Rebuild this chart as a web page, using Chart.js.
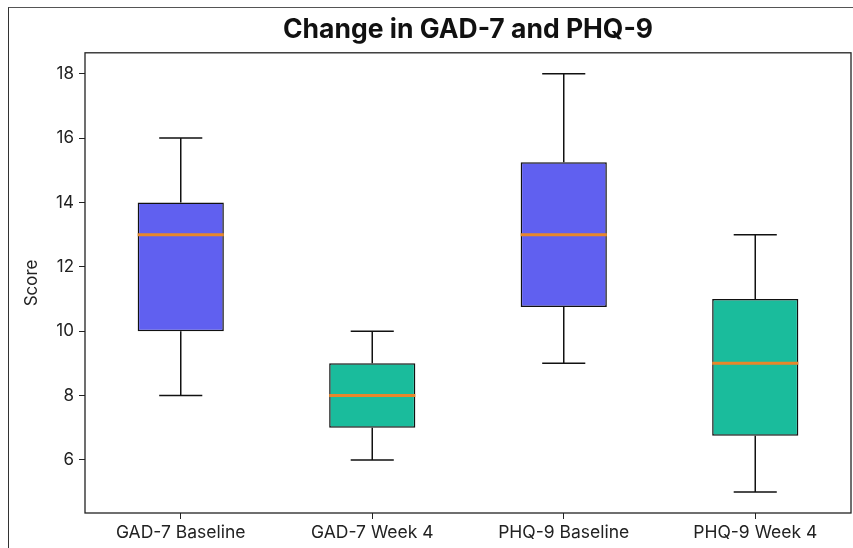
<!DOCTYPE html>
<html>
<head>
  <meta charset="UTF-8">
  <title>Change in GAD-7 and PHQ-9</title>
  <script src="https://cdn.jsdelivr.net/npm/chart.js"></script>
  <style>
    html, body { margin: 0; padding: 0; background: #fff; }
    #wrap { position: relative; width: 853px; height: 548px; overflow: hidden; }
    #frame { position: absolute; left: 8px; top: 7px; width: 860px; height: 560px;
             border-top: 1.5px solid #555; border-left: 1.5px solid #333; }
    #boxChart { position: absolute; left: 0; top: 0; }
  </style>
</head>
<body>
  <div id="wrap">
    <div id="frame"></div>
    <canvas id="boxChart" width="853" height="548"></canvas>
  </div>

  <script>
    // box plot summary
    const categories = ['GAD-7 Baseline', 'GAD-7 Week 4', 'PHQ-9 Baseline', 'PHQ-9 Week 4'];
    const whiskerLow = [8, 6, 9, 5];
    const q1 = [10, 7, 10.75, 6.75];
    const median = [13, 8, 13, 9];
    const q3 = [14, 9, 15.25, 11];
    const whiskerHigh = [16, 10, 18, 13];
    const boxColors = ['#6060F0', '#1ABC9C', '#6060F0', '#1ABC9C'];
    const yTicks = [6, 8, 10, 12, 14, 16, 18];

    const font = "Inter, 'Noto Sans', sans-serif";

    const boxPlot = {
      id: 'boxPlot',
      afterDatasetsDraw(chart) {
        const ctx = chart.ctx;
        const x = chart.scales.x, y = chart.scales.y;
        const meta = chart.getDatasetMeta(0);
        ctx.save();
        meta.data.forEach((bar, i) => {
          const cx = x.getPixelForValue(i);
          const half = bar.width / 2;
          ctx.strokeStyle = '#111';
          ctx.lineWidth = 1.5;
          ctx.beginPath();
          // whiskers
          ctx.moveTo(cx, y.getPixelForValue(q3[i]));
          ctx.lineTo(cx, y.getPixelForValue(whiskerHigh[i]));
          ctx.moveTo(cx, y.getPixelForValue(q1[i]));
          ctx.lineTo(cx, y.getPixelForValue(whiskerLow[i]));
          // caps
          ctx.moveTo(cx - half / 2, y.getPixelForValue(whiskerHigh[i]));
          ctx.lineTo(cx + half / 2, y.getPixelForValue(whiskerHigh[i]));
          ctx.moveTo(cx - half / 2, y.getPixelForValue(whiskerLow[i]));
          ctx.lineTo(cx + half / 2, y.getPixelForValue(whiskerLow[i]));
          ctx.stroke();
          // median
          ctx.strokeStyle = '#E8872A';
          ctx.lineWidth = 3;
          ctx.beginPath();
          ctx.moveTo(cx - half, y.getPixelForValue(median[i]));
          ctx.lineTo(cx + half, y.getPixelForValue(median[i]));
          ctx.stroke();
        });
        // axes frame
        const a = chart.chartArea;
        ctx.strokeStyle = '#222';
        ctx.lineWidth = 1.3;
        ctx.strokeRect(a.left, a.top, a.right - a.left, a.bottom - a.top);
        ctx.restore();
      }
    };

    new Chart(document.getElementById('boxChart'), {
      type: 'bar',
      data: {
        labels: categories,
        datasets: [{
          data: categories.map((c, i) => [q1[i], q3[i]]),
          backgroundColor: boxColors,
          borderColor: '#111',
          borderWidth: 1.5,
          borderSkipped: false,
          barPercentage: 0.45,
          categoryPercentage: 1
        }]
      },
      options: {
        responsive: false,
        animation: false,
        layout: { padding: { left: 18, right: 2, top: 0, bottom: 0 } },
        plugins: {
          legend: { display: false },
          tooltip: { enabled: false },
          title: {
            display: true,
            fullSize: false,
            text: 'Change in GAD-7 and PHQ-9',
            color: '#111',
            font: { family: font, size: 26.5, weight: 'bold' },
            padding: { top: 14, bottom: 7 }
          }
        },
        scales: {
          x: {
            grid: { drawOnChartArea: false, drawTicks: true, tickLength: 6, offset: false, color: '#222' },
            border: { display: false },
            ticks: { color: '#222', font: { family: font, size: 17.5 }, padding: 3 },
            afterFit(s) { s.height = 35; }
          },
          y: {
            min: 4.35,
            max: 18.65,
            afterBuildTicks(s) { s.ticks = yTicks.map(v => ({ value: v })); },
            grid: { drawOnChartArea: false, drawTicks: true, tickLength: 6, color: '#222' },
            border: { display: false },
            ticks: { color: '#222', font: { family: font, size: 17 }, padding: 5 },
            title: { display: true, text: 'Score', color: '#222', font: { family: font, size: 17 }, padding: 4 },
            afterFit(s) { s.width = 67; }
          }
        }
      },
      plugins: [boxPlot]
    });
  </script>
</body>
</html>
